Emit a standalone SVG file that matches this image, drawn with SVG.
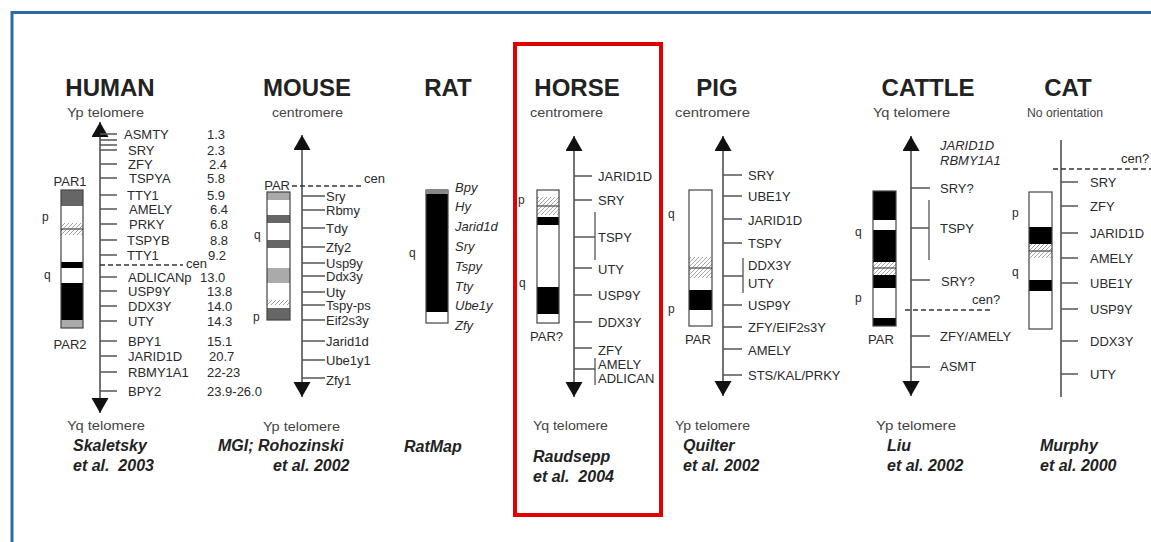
<svg xmlns="http://www.w3.org/2000/svg" width="1151" height="542" viewBox="0 0 1151 542">
  <style>
    .title { font-family: "Liberation Sans", Arial, sans-serif; font-weight: bold; font-size: 24px; fill: #222; text-anchor: middle; }
    .sub { font-family: "Liberation Sans", Arial, sans-serif; font-size: 12px; fill: #444; }
    .gene { font-family: "Liberation Sans", Arial, sans-serif; font-size: 13px; fill: #2a2a2a; }
    .ital { font-style: italic; }
    .arm { font-family: "Liberation Sans", Arial, sans-serif; font-size: 12px; fill: #2a2a2a; }
    .cit { font-family: "Liberation Sans", Arial, sans-serif; font-size: 16px; font-weight: bold; font-style: italic; fill: #222; }
    .axis { stroke: #444; stroke-width: 1.5; fill: none; }
    .tick { stroke: #555; stroke-width: 1.3; fill: none; }
    .dash { stroke: #333; stroke-width: 1.6; stroke-dasharray: 5 3; fill: none; }
    .chr { fill: none; stroke: #444; stroke-width: 1.2; }
    .blk { fill: #000; }
    .dg { fill: #666; }
    .lg { fill: #aaa; }
    .hat { fill: url(#hatch); }
  </style>
  <defs>
    <pattern id="hatch" patternUnits="userSpaceOnUse" width="4" height="4">
      <rect width="4" height="4" fill="#fff"/>
      <path d="M0,4 L4,0" stroke="#999" stroke-width="0.9"/>
    </pattern>
    <marker id="arr" markerUnits="userSpaceOnUse" markerWidth="16" markerHeight="18" refX="15" refY="8.5" orient="auto-start-reverse">
      <path d="M0,0 L15,8.5 L0,17 Z" fill="#111"/>
    </marker>
  </defs>

  <rect width="1151" height="542" fill="#fff"/>
  <!-- frame -->
  <path d="M12,542 V12.5 H1151" fill="none" stroke="#2a6aa8" stroke-width="3"/>

  <!-- HUMAN -->
  <g id="human">
    <text class="title" x="110" y="96">HUMAN</text>
    <text class="sub" x="67" y="117" textLength="77" lengthAdjust="spacingAndGlyphs">Yp telomere</text>
    <rect x="61" y="190" width="22" height="138" fill="#fff"/>
    <rect class="dg" x="61" y="190" width="22" height="16"/>
    <rect class="hat" x="61" y="223" width="22" height="12"/>
    <rect class="blk" x="61" y="262" width="22" height="6"/>
    <rect class="blk" x="61" y="283" width="22" height="37"/>
    <rect class="lg" x="61" y="320" width="22" height="8"/>
    <line class="tick" x1="61" y1="229" x2="83" y2="229"/>
    <rect class="chr" x="61" y="190" width="22" height="138"/>
    <text class="gene" x="70" y="186" text-anchor="middle">PAR1</text>
    <text class="gene" x="70" y="349" text-anchor="middle">PAR2</text>
    <text class="arm" x="42" y="221">p</text>
    <text class="arm" x="44" y="279">q</text>
    <text class="gene" x="124" y="139">ASMTY</text>
    <text class="gene" x="128" y="155">SRY</text>
    <text class="gene" x="128" y="169">ZFY</text>
    <text class="gene" x="129" y="183">TSPYA</text>
    <text class="gene" x="127" y="200">TTY1</text>
    <text class="gene" x="129" y="214">AMELY</text>
    <text class="gene" x="129" y="229">PRKY</text>
    <text class="gene" x="127" y="245">TSPYB</text>
    <text class="gene" x="127" y="260">TTY1</text>
    <text class="gene" x="128" y="282">ADLICANp</text>
    <text class="gene" x="128" y="296">USP9Y</text>
    <text class="gene" x="128" y="311">DDX3Y</text>
    <text class="gene" x="128" y="326">UTY</text>
    <text class="gene" x="128" y="346">BPY1</text>
    <text class="gene" x="128" y="361">JARID1D</text>
    <text class="gene" x="128" y="377">RBMY1A1</text>
    <text class="gene" x="128" y="396">BPY2</text>
    <text class="gene" x="207" y="139">1.3</text>
    <text class="gene" x="207" y="155">2.3</text>
    <text class="gene" x="209" y="169">2.4</text>
    <text class="gene" x="207" y="183">5.8</text>
    <text class="gene" x="207" y="200">5.9</text>
    <text class="gene" x="210" y="214">6.4</text>
    <text class="gene" x="210" y="229">6.8</text>
    <text class="gene" x="210" y="245">8.8</text>
    <text class="gene" x="208" y="260">9.2</text>
    <text class="gene" x="186" y="268" font-size="12">cen</text>
    <text class="gene" x="200" y="282">13.0</text>
    <text class="gene" x="207" y="296">13.8</text>
    <text class="gene" x="207" y="311">14.0</text>
    <text class="gene" x="207" y="326">14.3</text>
    <text class="gene" x="207" y="346">15.1</text>
    <text class="gene" x="209" y="361">20.7</text>
    <text class="gene" x="207" y="377">22-23</text>
    <text class="gene" x="207" y="396">23.9-26.0</text>
    <text class="sub" x="67" y="430" textLength="78" lengthAdjust="spacingAndGlyphs">Yq telomere</text>
    <text class="cit" x="73" y="451">Skaletsky</text>
    <text class="cit" x="73" y="471" xml:space="preserve">et al.  2003</text>
  </g>

  <!-- MOUSE -->
  <g id="mouse">
    <text class="title" x="307" y="96">MOUSE</text>
    <text class="sub" x="272" y="117" textLength="71" lengthAdjust="spacingAndGlyphs">centromere</text>
    <rect x="267" y="192" width="23" height="128" fill="#fff"/>
    <rect class="lg" x="267" y="192" width="23" height="8"/>
    <rect class="dg" x="267" y="215" width="23" height="8"/>
    <rect class="dg" x="267" y="240" width="23" height="8"/>
    <rect class="lg" x="267" y="268" width="23" height="15"/>
    <rect class="hat" x="267" y="300" width="23" height="5"/>
    <rect class="dg" x="267" y="308" width="23" height="12"/>
    <rect class="chr" x="267" y="192" width="23" height="128"/>
    <text class="gene" x="290" y="190" text-anchor="end">PAR</text>
    <text class="arm" x="254" y="239">q</text>
    <text class="arm" x="253" y="321">p</text>
    <text class="gene" x="364" y="183" font-size="12">cen</text>
    <text class="gene" x="326" y="201">Sry</text>
    <text class="gene" x="326" y="215">Rbmy</text>
    <text class="gene" x="326" y="233">Tdy</text>
    <text class="gene" x="326" y="252">Zfy2</text>
    <text class="gene" x="326" y="268">Usp9y</text>
    <text class="gene" x="326" y="281">Ddx3y</text>
    <text class="gene" x="326" y="297">Uty</text>
    <text class="gene" x="326" y="310">Tspy-ps</text>
    <text class="gene" x="326" y="325">Eif2s3y</text>
    <text class="gene" x="326" y="346">Jarid1d</text>
    <text class="gene" x="326" y="365">Ube1y1</text>
    <text class="gene" x="326" y="385">Zfy1</text>
    <text class="sub" x="263" y="431" textLength="77" lengthAdjust="spacingAndGlyphs">Yp telomere</text>
    <text class="cit" x="218" y="451">MGI; Rohozinski</text>
    <text class="cit" x="273" y="471">et al. 2002</text>
  </g>

  <!-- RAT -->
  <g id="rat">
    <text class="title" x="448" y="96">RAT</text>
    <rect x="426" y="190" width="22" height="133" fill="#fff"/>
    <rect class="blk" x="426" y="194" width="22" height="118"/>
    <rect class="chr" x="426" y="190" width="22" height="133"/>
    <rect x="426" y="189" width="22" height="5" rx="2.5" fill="#888"/>
    <text class="arm" x="409" y="257">q</text>
    <text class="gene ital" x="455" y="192">Bpy</text>
    <text class="gene ital" x="455" y="211">Hy</text>
    <text class="gene ital" x="455" y="231">Jarid1d</text>
    <text class="gene ital" x="455" y="251">Sry</text>
    <text class="gene ital" x="455" y="271">Tspy</text>
    <text class="gene ital" x="455" y="291">Tty</text>
    <text class="gene ital" x="455" y="310">Ube1y</text>
    <text class="gene ital" x="455" y="330">Zfy</text>
    <text class="cit" x="404" y="452">RatMap</text>
  </g>

  <!-- HORSE -->
  <g id="horse">
    <rect x="515" y="44" width="146" height="471" fill="none" stroke="#e00000" stroke-width="4"/>
    <text class="title" x="577" y="96">HORSE</text>
    <text class="sub" x="530" y="117" textLength="73" lengthAdjust="spacingAndGlyphs">centromere</text>
    <rect x="537" y="190" width="22" height="133" fill="#fff"/>
    <rect class="hat" x="537" y="197" width="22" height="18"/>
    <line class="tick" x1="537" y1="206" x2="559" y2="206"/>
    <rect class="blk" x="537" y="217" width="22" height="8"/>
    <rect class="blk" x="537" y="287" width="22" height="27"/>
    <rect class="chr" x="537" y="190" width="22" height="133"/>
    <text class="arm" x="518" y="204">p</text>
    <text class="arm" x="519" y="287">q</text>
    <text class="gene" x="530" y="341">PAR?</text>
    <text class="gene" x="598" y="181">JARID1D</text>
    <text class="gene" x="598" y="205">SRY</text>
    <text class="gene" x="598" y="242">TSPY</text>
    <text class="gene" x="598" y="274">UTY</text>
    <text class="gene" x="598" y="300">USP9Y</text>
    <text class="gene" x="598" y="327">DDX3Y</text>
    <text class="gene" x="598" y="355">ZFY</text>
    <text class="gene" x="598" y="369">AMELY</text>
    <text class="gene" x="598" y="383">ADLICAN</text>
    <text class="sub" x="533" y="430" textLength="75" lengthAdjust="spacingAndGlyphs">Yq telomere</text>
    <text class="cit" x="533" y="462" font-size="18" font-weight="normal">Raudsepp</text>
    <text class="cit" x="533" y="482" font-size="18" font-weight="normal" xml:space="preserve">et al.  2004</text>
  </g>

  <!-- PIG -->
  <g id="pig">
    <text class="title" x="717" y="96">PIG</text>
    <text class="sub" x="675" y="117" textLength="75" lengthAdjust="spacingAndGlyphs">centromere</text>
    <rect x="689" y="190" width="23" height="136" fill="#fff"/>
    <rect class="hat" x="689" y="257" width="23" height="21"/>
    <line class="tick" x1="689" y1="268" x2="712" y2="268"/>
    <rect class="blk" x="689" y="290" width="23" height="20"/>
    <rect class="chr" x="689" y="190" width="23" height="136"/>
    <text class="arm" x="668" y="218">q</text>
    <text class="arm" x="668" y="313">p</text>
    <text class="gene" x="685" y="344">PAR</text>
    <text class="gene" x="748" y="180">SRY</text>
    <text class="gene" x="748" y="201">UBE1Y</text>
    <text class="gene" x="748" y="225">JARID1D</text>
    <text class="gene" x="748" y="248">TSPY</text>
    <text class="gene" x="748" y="270">DDX3Y</text>
    <text class="gene" x="748" y="288">UTY</text>
    <text class="gene" x="748" y="310">USP9Y</text>
    <text class="gene" x="748" y="332">ZFY/EIF2s3Y</text>
    <text class="gene" x="748" y="355">AMELY</text>
    <text class="gene" x="748" y="380">STS/KAL/PRKY</text>
    <text class="sub" x="675" y="430" textLength="75" lengthAdjust="spacingAndGlyphs">Yp telomere</text>
    <text class="cit" x="683" y="451">Quilter</text>
    <text class="cit" x="683" y="471">et al. 2002</text>
  </g>

  <!-- CATTLE -->
  <g id="cattle">
    <text class="title" x="928" y="96">CATTLE</text>
    <text class="sub" x="873" y="117" textLength="77" lengthAdjust="spacingAndGlyphs">Yq telomere</text>
    <rect x="873" y="191" width="23" height="135" fill="#fff"/>
    <rect class="blk" x="873" y="191" width="23" height="29"/>
    <rect class="blk" x="873" y="230" width="23" height="32"/>
    <rect class="hat" x="873" y="262" width="23" height="13"/>
    <line class="tick" x1="873" y1="268" x2="896" y2="268"/>
    <rect class="blk" x="873" y="275" width="23" height="13"/>
    <rect class="blk" x="873" y="318" width="23" height="8"/>
    <rect class="chr" x="873" y="191" width="23" height="135"/>
    <text class="arm" x="855" y="236">q</text>
    <text class="arm" x="855" y="302">p</text>
    <text class="gene" x="868" y="344">PAR</text>
    <text class="gene ital" x="940" y="150">JARID1D</text>
    <text class="gene ital" x="940" y="165">RBMY1A1</text>
    <text class="gene" x="940" y="193">SRY?</text>
    <text class="gene" x="940" y="233">TSPY</text>
    <text class="gene" x="941" y="286">SRY?</text>
    <text class="gene" x="972" y="304" font-size="12">cen?</text>
    <text class="gene" x="940" y="341">ZFY/AMELY</text>
    <text class="gene" x="940" y="371">ASMT</text>
    <text class="sub" x="876" y="430" textLength="80" lengthAdjust="spacingAndGlyphs">Yp telomere</text>
    <text class="cit" x="887" y="451">Liu</text>
    <text class="cit" x="887" y="471">et al. 2002</text>
  </g>

  <!-- CAT -->
  <g id="cat">
    <text class="title" x="1068" y="96">CAT</text>
    <text class="sub" x="1027" y="117" textLength="76" lengthAdjust="spacingAndGlyphs">No orientation</text>
    <rect x="1029" y="192" width="23" height="137" fill="#fff"/>
    <rect class="blk" x="1029" y="227" width="23" height="17"/>
    <rect class="hat" x="1029" y="244" width="23" height="14"/>
    <line class="tick" x1="1029" y1="251" x2="1052" y2="251"/>
    <rect class="blk" x="1029" y="280" width="23" height="11"/>
    <rect class="chr" x="1029" y="192" width="23" height="137"/>
    <text class="arm" x="1012" y="217">p</text>
    <text class="arm" x="1012" y="276">q</text>
    <text class="gene" x="1121" y="163" font-size="12">cen?</text>
    <text class="gene" x="1090" y="187">SRY</text>
    <text class="gene" x="1090" y="211">ZFY</text>
    <text class="gene" x="1090" y="238">JARID1D</text>
    <text class="gene" x="1090" y="263">AMELY</text>
    <text class="gene" x="1090" y="288">UBE1Y</text>
    <text class="gene" x="1090" y="314">USP9Y</text>
    <text class="gene" x="1090" y="346">DDX3Y</text>
    <text class="gene" x="1090" y="379">UTY</text>
    <text class="cit" x="1040" y="451">Murphy</text>
    <text class="cit" x="1040" y="471">et al. 2000</text>
  </g>

  <!-- chromosome axes, gene ticks and centromere lines -->
  <g id="connectors">
    <line class="axis" x1="100" y1="122" x2="100" y2="413" marker-start="url(#arr)" marker-end="url(#arr)"/>
    <path class="tick" d="M100,134H117 M100,140H117 M100,145H117 M100,150H117 M100,164H117 M100,178H117 M100,195H117 M100,209H117 M100,224H117 M100,240H117 M100,255H117 M100,277H117 M100,291H117 M100,306H117 M100,321H117 M100,341H117 M100,356H117 M100,372H117 M100,391H117"/>
    <line class="dash" x1="100" y1="265" x2="183" y2="265"/>

    <line class="axis" x1="302" y1="135" x2="302" y2="397" marker-start="url(#arr)" marker-end="url(#arr)"/>
    <path class="tick" d="M302,196H325 M302,210H325 M302,228H325 M302,247H325 M302,263H325 M302,276H325 M302,292H325 M302,305H325 M302,320H325 M302,341H325 M302,360H325 M302,378H325"/>
    <line class="dash" x1="292" y1="186" x2="362" y2="186"/>

    <line class="axis" x1="574" y1="136" x2="574" y2="397" marker-start="url(#arr)" marker-end="url(#arr)"/>
    <path class="tick" d="M574,176H592 M574,200H592 M574,237H595 M574,268H592 M574,295H592 M574,322H592 M574,348H592 M574,369H595 M595,212V260 M595,358V385"/>

    <line class="axis" x1="723" y1="136" x2="723" y2="396" marker-start="url(#arr)" marker-end="url(#arr)"/>
    <path class="tick" d="M723,175H742 M723,196H742 M723,219H742 M723,243H742 M723,276H743 M743,258V293 M723,305H742 M723,327H742 M723,349H742 M723,375H742"/>

    <line class="axis" x1="911" y1="136" x2="911" y2="396" marker-start="url(#arr)" marker-end="url(#arr)"/>
    <path class="tick" d="M911,188H930 M911,228H929 M929,200V260 M911,280H930 M911,336H930 M911,367H930"/>
    <line class="dash" x1="905" y1="310" x2="993" y2="310"/>

    <line class="axis" x1="1061" y1="140" x2="1061" y2="397"/>
    <path class="tick" d="M1061,182H1078 M1061,206H1078 M1061,233H1078 M1061,258H1078 M1061,283H1078 M1061,309H1078 M1061,341H1078 M1061,374H1078"/>
    <line class="dash" x1="1053" y1="169" x2="1151" y2="169"/>
  </g>
</svg>
